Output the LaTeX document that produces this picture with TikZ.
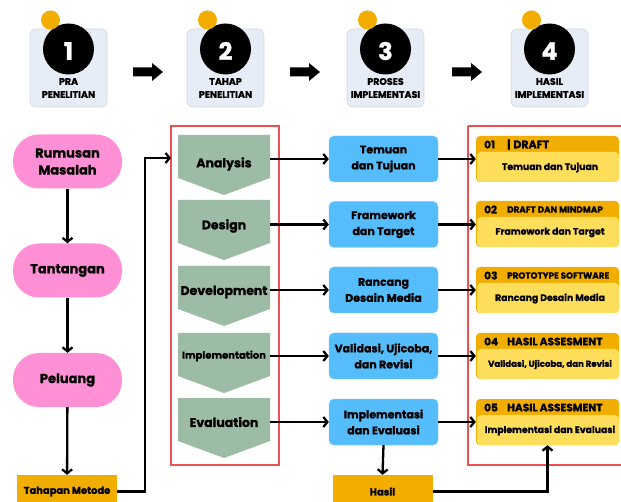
\documentclass[tikz,border=0pt]{standalone}
\usepackage{fontspec}
\setmainfont{Poppins}[BoldFeatures={FakeBold=1.2}]
\usetikzlibrary{arrows.meta,backgrounds}
\definecolor{pinkc}{HTML}{FF90D6}
\definecolor{greenc}{HTML}{9DBCA5}
\definecolor{bluec}{HTML}{55BDFB}
\definecolor{orangec}{HTML}{F2AE00}
\definecolor{yellowc}{HTML}{FFDE5C}
\definecolor{cardc}{HTML}{E7EDF6}
\definecolor{cardline}{HTML}{D3D9E2}
\definecolor{redc}{HTML}{EC5050}
\tikzset{
  conn/.style={line width=2.3pt, draw=black},
  arr/.style={conn, -{Straight Barb[length=4pt,width=10pt,line width=2.3pt]}},
  pill/.style={rectangle, rounded corners=26pt, fill=pinkc, minimum width=109pt, minimum height=54pt, align=center, font=\fontsize{13}{17}\selectfont\bfseries},
  gtext/.style={rectangle, minimum width=92pt, minimum height=20pt, inner sep=0pt, align=center, font=\fontsize{12.5}{15}\selectfont\bfseries},
  bluebox/.style={rectangle, rounded corners=5pt, fill=bluec, draw=bluec!80!white, minimum width=109pt, minimum height=46pt, align=center, inner sep=1pt, font=\fontsize{11}{16}\selectfont\bfseries},
  obox/.style={rectangle, fill=orangec, minimum width=100pt, minimum height=33pt, align=center, inner sep=0pt, font=\fontsize{9.9}{11}\selectfont\bfseries},
  ycard/.style={rectangle, minimum width=143pt, minimum height=46pt, inner sep=0pt},
  ybody/.style={font=\fontsize{9.3}{10}\selectfont\bfseries},
  yhead/.style={font=\fontsize{10.5}{11}\selectfont\bfseries, anchor=west, inner sep=0pt},
  hcard/.style={rectangle, rounded corners=6pt, fill=cardc, draw=cardline, line width=0.6pt, minimum width=77pt, minimum height=78pt},
  hlabel/.style={align=center, font=\fontsize{9.5}{13}\selectfont\bfseries, inner sep=0pt},
  redbox/.style={draw=redc, line width=1.6pt},
}
\begin{document}
\begin{tikzpicture}[x=1pt,y=-1pt]
\useasboundingbox (0,0) rectangle (621,502);
\fill[white] (0,0) rectangle (621,502);

% ---------- header cards ----------
\foreach \n/\cx/\num/\la/\lb in {h1/68.5/1/PRA/PENELITIAN, h2/225.5/2/TAHAP/PENELITIAN, h3/385.5/3/PROSES/IMPLEMENTASI, h4/549.5/4/HASIL/IMPLEMENTASI}{
  \node[hcard] (\n) at (\cx,68) {};
  \fill[black] (\cx,49) circle (25.5pt);
  \fill[orangec] (\cx-18,20) circle (9.5pt);
  \node[text=white, font=\fontsize{24}{24}\selectfont\bfseries, inner sep=0pt] (\n num) at (\cx,51) {\num};
  \node[hlabel] (\n lab) at (\cx,88) {\la\\\lb};
}
% header block arrows
\foreach \ax in {133,290,452}{
  \fill[black] (\ax,67.5) -- (\ax+19,67.5) -- (\ax+19,63) -- (\ax+30,72) -- (\ax+19,81) -- (\ax+19,76.5) -- (\ax,76.5) -- cycle;
}

% ---------- left column ----------
\node[pill] (rm) at (67.5,161.5) {Rumusan\\Masalah};
\node[pill] (tt) at (67.5,270.5) {Tantangan};
\node[pill] (pl) at (67.5,380) {Peluang};
\node[obox] (tm) at (67,491.5) {Tahapan Metode};
\draw[arr] (rm) -- (tt);
\draw[arr] (tt) -- (pl);
\draw[arr] (pl) -- (tm);

% ---------- red frames ----------
\draw[redbox] (171,126) rectangle (279,465);
\draw[redbox] (468,126) -- (630,126) (468,126) -- (468,465) -- (630,465);

% ---------- ADDIE green ----------
\foreach \n/\yy/\ty/\t in {g1/135/164/Analysis, g2/200/226/Design, g3/266/292/Development, g5/398/422/Evaluation}{
  \fill[greenc] (178,\yy) -- (270,\yy) -- (270,\yy+43) -- (224,\yy+60) -- (178,\yy+43) -- cycle;
  \node[gtext] (\n) at (224,\ty) {\t};
}
\fill[greenc] (178,333) -- (270,333) -- (270,376) -- (224,393) -- (178,376) -- cycle;
\node[gtext, font=\fontsize{10}{12}\selectfont\bfseries] (g4) at (224,356) {Implementation};

\coordinate (tmin) at (145,158);
\draw[arr] (tm.east) -| (tmin) -- (171,158);

% ---------- blue column ----------
\node[bluebox] (b1) at (383.5,159) {Temuan\\dan Tujuan};
\node[bluebox] (b2) at (383.5,224.5) {Framework\\dan Target};
\node[bluebox] (b3) at (383.5,290) {Rancang\\Desain Media};
\node[bluebox] (b4) at (383.5,356) {Validasi, Ujicoba,\\dan Revisi};
\node[bluebox] (b5) at (383.5,422) {Implementasi\\dan Evaluasi};
\node[obox] (hs) at (382.5,491.5) {\fontsize{10}{12}\selectfont Hasil};
\foreach \g/\b in {g1/b1,g2/b2,g3/b3,g4/b4,g5/b5}{
  \draw[arr] (\g.east |- \b.west) -- (\b.west);
}
\begin{scope}[on background layer]
\draw[conn] ([xshift=2.5pt]b1.south) -- ([xshift=2.5pt]b2.north);
\draw[conn] ([xshift=2.5pt]b2.south) -- ([xshift=2.5pt]b3.north);
\draw[conn] ([xshift=2.5pt]b3.south) -- ([xshift=2.5pt]b4.north);
\draw[conn] ([xshift=2.5pt]b4.south) -- ([xshift=2.5pt]b5.north);
\end{scope}
\draw[arr] (b5.south) -- (hs.north);

% ---------- yellow cards ----------
\foreach \n/\yy/\num/\hd/\bd/\hs/\bs in {
  y1/136/01/{\textbar\hspace{3pt}DRAFT}/{Temuan dan Tujuan}/11/9.3,
  y2/201/02/{DRAFT DAN MINDMAP}/{Framework dan Target}/8.8/9.3,
  y3/267/03/{PROTOTYPE SOFTWARE}/{Rancang Desain Media}/8.8/9.3,
  y4/333/04/{HASIL ASSESMENT}/{Validasi, Ujicoba, dan Revisi}/10.6/8.6,
  y5/399/05/{HASIL ASSESMENT}/{Implementasi dan Evaluasi}/10.6/9.3}{
  \node[ycard] (\n) at (547.5,\yy+23) {};
  \fill[orangec, rounded corners=4pt] (476,\yy) rectangle (619,\yy+46);
  \fill[yellowc, rounded corners=4pt] (477,\yy+16) rectangle (619,\yy+46);
  \node[yhead] (\n num) at (484,\yy+8.5) {\num};
  \node[yhead, font=\fontsize{\hs}{11}\selectfont\bfseries] (\n hd) at (507,\yy+8.5) {\hd};
  \node[ybody, font=\fontsize{\bs}{10}\selectfont\bfseries] (\n bd) at (550,\yy+31.5) {\bd};
}
\foreach \b/\y in {b1/y1,b2/y2,b3/y3,b4/y4,b5/y5}{
  \draw[arr] (\b.east) -- (\y.west |- \b.east);
}
\begin{scope}[on background layer]
\foreach \a/\b in {y1/y2,y2/y3,y3/y4,y4/y5}{
  \draw[conn] (\a.south) -- (\b.north);
}
\end{scope}
\draw[arr] (hs.east) -| (y5.south);
\end{tikzpicture}
\end{document}
